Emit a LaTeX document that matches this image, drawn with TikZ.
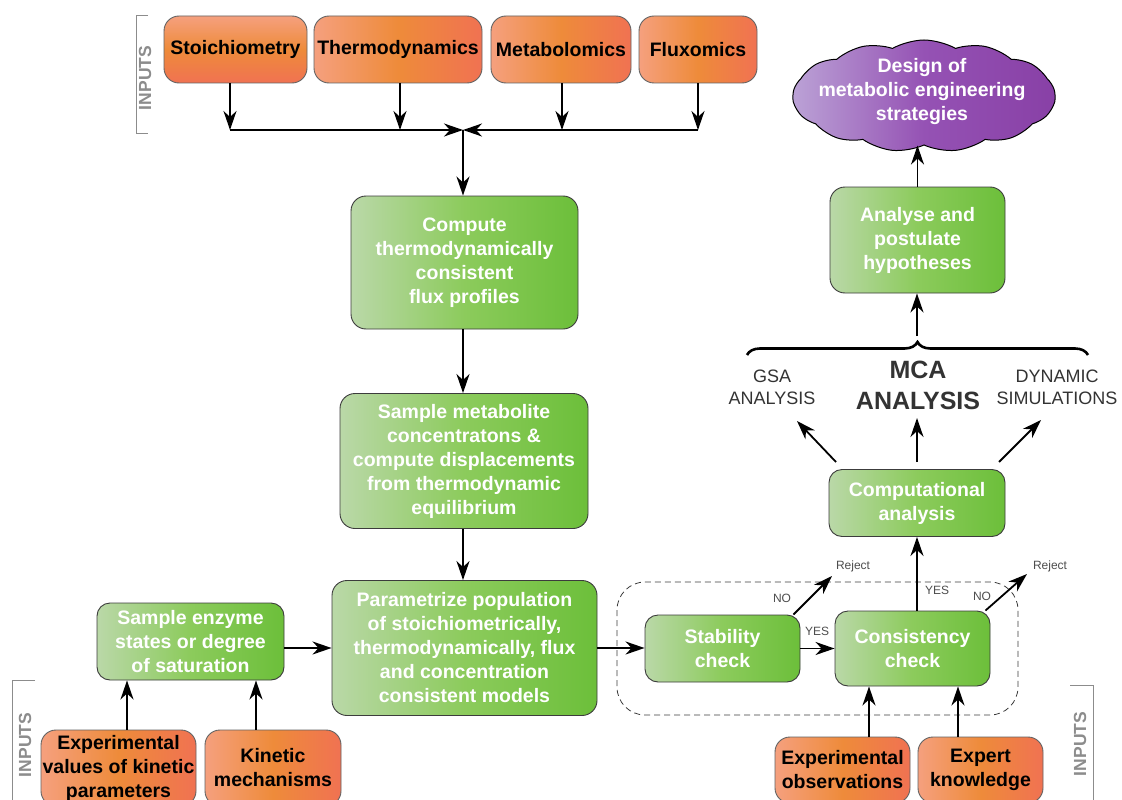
\documentclass[tikz,border=0pt]{standalone}
\usepackage{fontspec}
\setmainfont{Liberation Sans}
\usetikzlibrary{arrows.meta,shapes.symbols,decorations.pathreplacing,calc}
\definecolor{gL}{HTML}{BAD8A8}
\definecolor{gM}{HTML}{8CCB5C}
\definecolor{gR}{HTML}{6CBF3A}
\definecolor{oL}{HTML}{F5A07E}
\definecolor{oM}{HTML}{EE8B3A}
\definecolor{oR}{HTML}{F07252}
\definecolor{pL}{HTML}{BBA2D6}
\definecolor{pM}{HTML}{9552B4}
\definecolor{pR}{HTML}{8840A6}
\definecolor{inputgray}{HTML}{8C8C8C}
\definecolor{lblgray}{HTML}{4D4D4D}
\definecolor{anagray}{HTML}{333333}
\definecolor{edgegray}{HTML}{3C3C3C}
\begin{document}
\begin{tikzpicture}[x=1pt,y=-1pt,
  bigfont/.style={font=\fontsize{19.5}{24}\selectfont\bfseries},
  boxbase/.style={line width=0.9pt, rounded corners=15pt, align=center, inner sep=0pt, bigfont},
  greenbox/.style={boxbase, draw=edgegray, left color=gL, right color=gR, middle color=gM, text=white},
  orangebox/.style={boxbase, draw=edgegray!80, left color=oL, right color=oR, middle color=oM, text=black},
  arr/.style={-{Stealth[length=19pt,width=13pt,inset=6pt]}, line width=1.8pt},
  small/.style={font=\fontsize{12}{14}\selectfont, text=lblgray, inner sep=0pt},
  ana/.style={font=\fontsize{18}{22}\selectfont, text=anagray, align=center, inner sep=0pt},
  inputlbl/.style={font=\fontsize{17.5}{20}\selectfont\bfseries, text=inputgray, rotate=90, inner sep=0pt},
  bracket/.style={draw=inputgray, line width=1pt}
]
\useasboundingbox (0,0) rectangle (1122,800);
\clip (0,0) rectangle (1122,800);
\fill[white] (0,0) rectangle (1122,800);

% top inputs
\node[orangebox, top color=oL, bottom color=oR, middle color=oM, minimum width=143, minimum height=67] (stoich) at (235.5,49.5) {Stoichiometry};
\node[orangebox, minimum width=168, minimum height=67] (thermo) at (398,49.5) {Thermodynamics};
\node[orangebox, minimum width=140, minimum height=67] (metab) at (561,49.5) {Metabolomics};
\node[orangebox, minimum width=118, minimum height=67] (flux) at (698,49.5) {Fluxomics};

\draw[bracket] (148,16) -- (136,16) -- (136,133) -- (148,133);
\node[inputlbl] (in1) at (145,78) {INPUTS};

\coordinate (j1) at (230,130);
\coordinate (j2) at (400,130);
\coordinate (j3) at (562,130);
\coordinate (j4) at (698,130);
\coordinate (junc) at (463,130);
\draw[arr] (j1 |- stoich.south) -- (j1);
\draw[arr] (j2 |- thermo.south) -- (j2);
\draw[arr] (j3 |- metab.south) -- (j3);
\draw[arr] (j4 |- flux.south) -- (j4);
\draw[arr] (j1) -- (junc);
\draw[arr] (j4) -- (junc);

% main column
\node[greenbox, minimum width=227, minimum height=133] (compute) at (464.5,262.5)
  {Compute\\thermodynamically\\consistent\\flux profiles};
\node[greenbox, minimum width=248, minimum height=135] (sample) at (464,461)
  {Sample metabolite\\concentratons \&\\compute displacements\\from thermodynamic\\equilibrium};
\node[greenbox, minimum width=265, minimum height=135] (param) at (464.5,648)
  {Parametrize population\\of stoichiometrically,\\thermodynamically, flux\\and concentration\\consistent models};
\draw[arr] (junc) -- (junc |- compute.north);
\draw[arr] (junc |- compute.south) -- (junc |- sample.north);
\draw[arr] (junc |- sample.south) -- (junc |- param.north);

% enzyme
\node[greenbox, rounded corners=13pt, minimum width=187, minimum height=77] (enzyme) at (190.5,641.5)
  {Sample enzyme\\states or degree\\of saturation};
\draw[arr] (enzyme.east |- param.west) -- (param.west);

\node[orangebox, minimum width=155, minimum height=76] (expk) at (118.5,768)
  {Experimental\\values of kinetic\\parameters};
\node[orangebox, minimum width=136, minimum height=76] (kin) at (273,768)
  {Kinetic\\mechanisms};
\draw[arr] ([xshift=8.5pt]expk.north) -- ([xshift=8.5pt]expk.north |- enzyme.south);
\draw[arr] ([xshift=-17pt]kin.north) -- ([xshift=-17pt]kin.north |- enzyme.south);

\draw[bracket] (35,680) -- (12,680) -- (12,805);
\node[inputlbl] (in2) at (25,745) {INPUTS};

% checks
\draw[dashed, dash pattern=on 6pt off 4pt, draw=edgegray, line width=0.8pt, rounded corners=28pt]
  (617,582) rectangle (1018,715);
\node[greenbox, rounded corners=13pt, minimum width=155, minimum height=67] (stab) at (722.5,648.5)
  {Stability\\check};
\node[greenbox, rounded corners=13pt, minimum width=155, minimum height=75] (cons) at (912.5,648.5)
  {Consistency\\check};
\draw[arr] (param.east) -- (param.east -| stab.west);
\draw[arr] (stab.east) -- (stab.east -| cons.west);
\node[small] (yes1) at (817,631) {YES};

\coordinate (rej1pt) at (832,576);
\coordinate (rej2pt) at (1027,574);
\draw[arr] ([xshift=-7pt]stab.north east) -- (rej1pt);
\draw[arr] ([xshift=-5pt]cons.north east) -- (rej2pt);
\node[small] (reject1) at (853,566) {Reject};
\node[small] (reject2) at (1050,566) {Reject};
\node[small] (no1) at (782,598) {NO};
\node[small] (no2) at (982,596) {NO};
\node[small] (yes2) at (937,590) {YES};

\node[orangebox, minimum width=135, minimum height=66] (expobs) at (842.5,770)
  {Experimental\\observations};
\node[orangebox, minimum width=125, minimum height=66] (expert) at (980.5,770)
  {Expert\\knowledge};
\draw[arr] ([xshift=26.5pt]expobs.north) -- ([xshift=26.5pt]expobs.north |- cons.south);
\draw[arr] ([xshift=-22.5pt]expert.north) -- ([xshift=-22.5pt]expert.north |- cons.south);

\draw[bracket] (1070,685) -- (1093,685) -- (1093,805);
\node[inputlbl] (in3) at (1080,744) {INPUTS};

% analysis
\node[greenbox, rounded corners=13pt, minimum width=176, minimum height=67] (comp) at (917,503)
  {Computational\\analysis};
\draw[arr] (comp.south |- cons.north) -- (comp.south);

\node[ana] (gsa) at (772,387) {GSA\\ANALYSIS};
\node[ana, font=\fontsize{25}{31}\selectfont\bfseries] (mca) at (918,385) {MCA\\ANALYSIS};
\node[ana] (dyn) at (1057,387) {DYNAMIC\\SIMULATIONS};

\coordinate (o1s) at (836,462);
\coordinate (o1e) at (797,421);
\coordinate (o2s) at (917,462);
\coordinate (o2e) at (917,418);
\coordinate (o3s) at (999,462);
\coordinate (o3e) at (1041,420);
\draw[arr] (o1s) -- (o1e);
\draw[arr] (o2s) -- (o2e);
\draw[arr] (o3s) -- (o3e);

\draw[line width=2.6pt, decorate, decoration={brace, amplitude=13pt, aspect=0.5}]
  (747,355) -- (1088,355);
\coordinate (bracetip) at (917,336);

\node[greenbox, rounded corners=15pt, minimum width=175, minimum height=106] (analyse) at (917.5,240)
  {Analyse and\\postulate\\hypotheses};
\draw[arr] (bracetip) -- (bracetip |- analyse.south);

% cloud
\node[cloud, cloud puffs=13, cloud puff arc=60, cloud ignores aspect, draw=black, line width=1pt,
      left color=pL, right color=pR, middle color=pM, minimum width=262, minimum height=112, inner sep=0pt]
  (cloudshape) at (924,96) {};
\node[align=center, text=white, bigfont, inner sep=0pt] (cloudtext) at (922,92)
  {Design of\\metabolic engineering\\strategies};
\draw[arr] (analyse.north) -- (analyse.north |- cloudshape.south);
\end{tikzpicture}
\end{document}
